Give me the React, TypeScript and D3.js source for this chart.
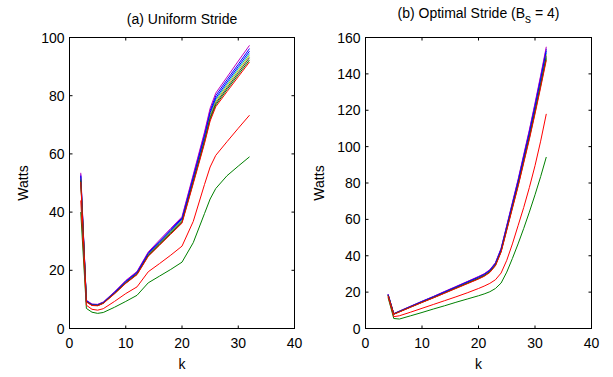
import React from "react";
import * as d3 from "d3";

const COLORS = ["#0000ff", "#008000", "#ff0000", "#00bfbf", "#bf00bf", "#bfbf00", "#404040"];

const leftK = [2, 3, 4, 5, 6, 8, 10, 12, 14, 16, 18, 20, 22, 24, 25, 26, 28, 30, 32];
const left0 = [52.9, 9.6, 8.3, 8.2, 9.0, 12.5, 16.3, 19.4, 26.0, 30.0, 34.0, 38.0, 52.3, 66.8, 74.9, 80.0, 85.5, 90.8, 96.2];
const left1 = [40.0, 6.9, 5.6, 5.2, 5.5, 7.3, 9.3, 11.4, 15.7, 18.0, 20.3, 22.8, 29.5, 39.5, 44.5, 48.1, 52.5, 55.8, 59.0];
const left2 = [44.0, 8.0, 6.6, 6.3, 6.8, 9.3, 12.0, 14.3, 19.5, 22.3, 25.2, 28.3, 36.8, 49.5, 55.5, 59.5, 64.2, 68.8, 73.3];
const left3 = [52.0, 9.4, 8.2, 8.0, 8.9, 12.3, 16.0, 19.1, 25.6, 29.5, 33.4, 37.4, 51.4, 65.6, 73.6, 78.6, 84.0, 89.3, 94.5];
const left4 = [53.5, 9.7, 8.4, 8.3, 9.1, 12.6, 16.5, 19.6, 26.3, 30.4, 34.4, 38.4, 52.9, 67.5, 75.7, 80.9, 86.4, 91.9, 97.3];
const left5 = [51.6, 9.3, 8.1, 8.0, 8.8, 12.2, 15.9, 18.9, 25.4, 29.3, 33.2, 37.1, 51.0, 65.1, 73.0, 78.0, 83.4, 88.6, 93.8];
const left6 = [51.2, 9.2, 8.0, 7.9, 8.7, 12.1, 15.7, 18.8, 25.2, 29.1, 32.9, 36.8, 50.6, 64.6, 72.4, 77.4, 82.7, 87.9, 93.1];
const left7 = [52.4, 9.5, 8.2, 8.1, 8.9, 12.4, 16.1, 19.2, 25.8, 29.7, 33.7, 37.6, 51.8, 66.1, 74.2, 79.2, 84.7, 90.0, 95.3];
const left8 = [50.8, 9.2, 8.0, 7.9, 8.7, 12.0, 15.6, 18.6, 25.0, 28.8, 32.7, 36.5, 50.2, 64.1, 71.9, 76.8, 82.1, 87.2, 92.3];
const left9 = [50.4, 9.1, 7.9, 7.8, 8.6, 11.9, 15.5, 18.5, 24.8, 28.6, 32.4, 36.2, 49.8, 63.6, 71.3, 76.2, 81.4, 86.5, 91.6];

const rightK = [4, 5, 6, 8, 10, 12, 14, 16, 18, 20, 21, 22, 23, 24, 25, 26, 27, 28, 29, 30, 31, 32];
const right0 = [18.8, 8.1, 9.5, 12.2, 14.9, 17.5, 20.2, 22.9, 25.7, 28.4, 29.9, 32.1, 36.0, 43.8, 56.3, 68.8, 81.4, 94.9, 108.5, 123.1, 138.2, 153.8];
const right1 = [17.0, 5.5, 5.2, 7.0, 8.8, 10.7, 12.5, 14.4, 16.2, 18.0, 19.0, 20.2, 22.0, 25.0, 31.0, 38.5, 46.5, 55.0, 64.0, 73.5, 83.5, 94.3];
const right2 = [17.5, 6.5, 7.0, 9.0, 11.1, 13.2, 15.3, 17.4, 19.6, 22.0, 23.3, 24.8, 26.8, 30.5, 37.5, 46.5, 56.5, 66.5, 77.5, 89.5, 103.0, 118.0];
const right3 = [18.5, 8.0, 9.4, 12.0, 14.7, 17.3, 19.9, 22.6, 25.3, 28.0, 29.5, 31.7, 35.5, 43.2, 55.5, 67.8, 80.2, 93.5, 106.9, 121.3, 136.2, 151.6];
const right4 = [18.9, 8.2, 9.6, 12.3, 15.0, 17.6, 20.4, 23.1, 25.8, 28.6, 30.1, 32.3, 36.2, 44.1, 56.7, 69.3, 81.9, 95.6, 109.2, 123.9, 139.1, 154.9];
const right5 = [18.4, 8.0, 9.3, 11.9, 14.6, 17.2, 19.8, 22.5, 25.1, 27.8, 29.3, 31.4, 35.2, 42.9, 55.1, 67.4, 79.6, 92.9, 106.2, 120.5, 135.3, 150.6];
const right6 = [18.3, 7.9, 9.2, 11.9, 14.5, 17.0, 19.7, 22.3, 24.9, 27.6, 29.1, 31.2, 35.0, 42.6, 54.8, 66.9, 79.1, 92.3, 105.5, 119.7, 134.4, 149.6];
const right7 = [18.6, 8.1, 9.4, 12.1, 14.8, 17.4, 20.1, 22.8, 25.5, 28.2, 29.7, 31.9, 35.7, 43.5, 55.9, 68.3, 80.7, 94.2, 107.6, 122.1, 137.1, 152.7];
const right8 = [18.1, 7.9, 9.2, 11.8, 14.4, 16.9, 19.5, 22.2, 24.8, 27.4, 28.9, 31.0, 34.7, 42.3, 54.4, 66.5, 78.5, 91.6, 104.7, 118.8, 133.4, 148.5];
const right9 = [18.0, 7.8, 9.1, 11.7, 14.3, 16.8, 19.4, 22.0, 24.6, 27.2, 28.7, 30.8, 34.5, 42.0, 54.0, 66.0, 78.0, 91.0, 104.0, 118.0, 132.5, 147.5];

const xTicks = [0, 10, 20, 30, 40];
const leftYTicks = [0, 20, 40, 60, 80, 100];
const rightYTicks = [0, 20, 40, 60, 80, 100, 120, 140, 160];

const FONT = "'Liberation Sans', Arial, Helvetica, sans-serif";

type PanelProps = {
  x0: number;
  x1: number;
  yMax: number;
  yTicks: number[];
  ks: number[];
  series: number[][];
  title: React.ReactNode;
  titleY: number;
};

const TOP = 37.5;
const BOTTOM = 328.5;

function Panel({ x0, x1, yMax, yTicks, ks, series, title, titleY }: PanelProps) {
  const x = d3.scaleLinear().domain([0, 40]).range([x0, x1]);
  const y = d3.scaleLinear().domain([0, yMax]).range([BOTTOM, TOP]);
  const line = d3
    .line<number>()
    .x((_, i) => x(ks[i]))
    .y((d) => y(d));
  const tl = 3;
  const cx = (x0 + x1) / 2;
  return (
    <g>
      {series.map((s, i) => (
        <path key={i} d={line(s) || ""} fill="none" stroke={COLORS[i % 7]} strokeWidth={1} />
      ))}
      <rect x={x0} y={TOP} width={x1 - x0} height={BOTTOM - TOP} fill="none" stroke="#000" strokeWidth={1} />
      {xTicks.map((t) => (
        <g key={"x" + t}>
          <line x1={x(t)} x2={x(t)} y1={BOTTOM} y2={BOTTOM - tl} stroke="#000" />
          <line x1={x(t)} x2={x(t)} y1={TOP} y2={TOP + tl} stroke="#000" />
          <text x={x(t)} y={348} textAnchor="middle" fontSize={14} fontFamily={FONT}>
            {t}
          </text>
        </g>
      ))}
      {yTicks.map((t) => (
        <g key={"y" + t}>
          <line x1={x0} x2={x0 + tl} y1={y(t)} y2={y(t)} stroke="#000" />
          <line x1={x1} x2={x1 - tl} y1={y(t)} y2={y(t)} stroke="#000" />
          <text x={x0 - 5} y={y(t) + 5} textAnchor="end" fontSize={14} fontFamily={FONT}>
            {t}
          </text>
        </g>
      ))}
      <text x={cx} y={369} textAnchor="middle" fontSize={14} fontFamily={FONT}>
        k
      </text>
      <text
        transform={`translate(${x0 - 42},${(TOP + BOTTOM) / 2}) rotate(-90)`}
        textAnchor="middle"
        fontSize={14}
        fontFamily={FONT}
      >
        Watts
      </text>
      <text x={cx} y={titleY} textAnchor="middle" fontSize={14} fontFamily={FONT}>
        {title}
      </text>
    </g>
  );
}

export default function App() {
  const leftSeries = [left0, left1, left2, left3, left4, left5, left6, left7, left8, left9];
  const rightSeries = [right0, right1, right2, right3, right4, right5, right6, right7, right8, right9];
  return (
    <svg
      width={613}
      height={377}
      style={{ position: "absolute", left: 0, top: 0, background: "#fff" }}
    >
      <rect width={613} height={377} fill="#fff" />
      <Panel
        x0={69.5}
        x1={294.5}
        yMax={100}
        yTicks={leftYTicks}
        ks={leftK}
        series={leftSeries}
        title="(a) Uniform Stride"
        titleY={24}
      />
      <Panel
        x0={365.5}
        x1={591.5}
        yMax={160}
        yTicks={rightYTicks}
        ks={rightK}
        series={rightSeries}
        title={
          <>
            <tspan>(b) Optimal Stride (B</tspan>
            <tspan dy={5} fontSize={12}>s</tspan>
            <tspan dy={-5}> = 4)</tspan>
          </>
        }
        titleY={18}
      />
    </svg>
  );
}
